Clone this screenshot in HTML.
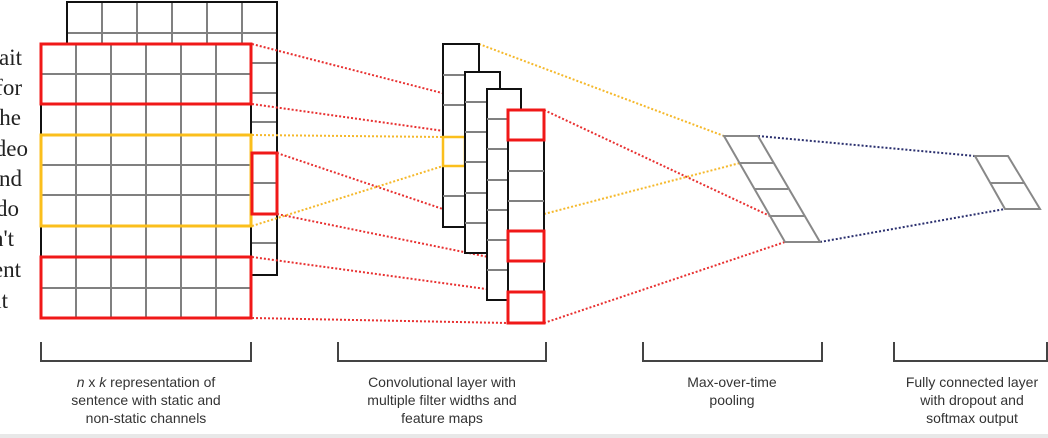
<!DOCTYPE html>
<html><head><meta charset="utf-8"><style>
html,body{margin:0;padding:0;background:#fff;width:1048px;height:438px;overflow:hidden}
</style></head><body>
<svg width="1048" height="438" viewBox="0 0 1048 438" xmlns="http://www.w3.org/2000/svg">
<rect x="0" y="434" width="1048" height="4" fill="#e8e8e8"/>
<!-- words -->
<g font-family="Liberation Serif, serif" font-size="23" fill="#222" text-anchor="end">
<text x="22" y="65">wait</text>
<text x="22" y="95">for</text>
<text x="21" y="125">the</text>
<text x="28" y="156">video</text>
<text x="22" y="186">and</text>
<text x="19" y="216">do</text>
<text x="14" y="246">n't</text>
<text x="21" y="277">rent</text>
<text x="8" y="308">it</text>
</g>
<!-- back matrix -->
<g stroke="#808080" stroke-width="2" fill="none">
<rect x="67" y="2" width="210" height="273" fill="#fff" stroke="#111"/>
<line x1="67" y1="33" x2="277" y2="33"/>
<line x1="102" y1="2" x2="102" y2="44"/><line x1="137" y1="2" x2="137" y2="44"/>
<line x1="172" y1="2" x2="172" y2="44"/><line x1="207" y1="2" x2="207" y2="44"/>
<line x1="242" y1="2" x2="242" y2="44"/>
<line x1="251" y1="63" x2="277" y2="63"/><line x1="251" y1="93" x2="277" y2="93"/>
<line x1="251" y1="122" x2="277" y2="122"/><line x1="251" y1="183" x2="277" y2="183"/>
<line x1="251" y1="243" x2="277" y2="243"/>
</g>
<rect x="67" y="2" width="210" height="273" fill="none" stroke="#111" stroke-width="2"/>
<!-- front matrix -->
<rect x="41" y="44" width="210" height="274" fill="#fff" stroke="#111" stroke-width="2"/>
<g stroke="#808080" stroke-width="2">
<line x1="76" y1="44" x2="76" y2="318"/><line x1="111" y1="44" x2="111" y2="318"/>
<line x1="146" y1="44" x2="146" y2="318"/><line x1="181" y1="44" x2="181" y2="318"/>
<line x1="216" y1="44" x2="216" y2="318"/>
<line x1="41" y1="74" x2="251" y2="74"/><line x1="41" y1="104" x2="251" y2="104"/>
<line x1="41" y1="135" x2="251" y2="135"/><line x1="41" y1="165" x2="251" y2="165"/>
<line x1="41" y1="195" x2="251" y2="195"/><line x1="41" y1="226" x2="251" y2="226"/>
<line x1="41" y1="257" x2="251" y2="257"/><line x1="41" y1="288" x2="251" y2="288"/>
</g>
<g fill="none" stroke-width="3">
<rect x="41" y="44" width="210" height="60" stroke="#f01818"/>
<rect x="41" y="135" width="210" height="91" stroke="#fbbf1c"/>
<rect x="41" y="257" width="210" height="61" stroke="#f01818"/>
<rect x="252" y="153" width="25" height="61" stroke="#f01818"/>
</g>
<!-- dotted connectors -->
<g fill="none" stroke-width="2" stroke-dasharray="2,2">
<g stroke="#e83030">
<line x1="252" y1="44" x2="508" y2="110"/>
<line x1="252" y1="104" x2="508" y2="140"/>
<line x1="277" y1="153" x2="508" y2="231"/>
<line x1="277" y1="214" x2="508" y2="261"/>
<line x1="252" y1="257" x2="508" y2="292"/>
<line x1="252" y1="318" x2="508" y2="323"/>
<line x1="544" y1="110" x2="770" y2="216"/>
<line x1="544" y1="323" x2="785" y2="242"/>
</g>
<g stroke="#f5b82a">
<line x1="252" y1="135" x2="443" y2="137"/>
<line x1="252" y1="226" x2="443" y2="166"/>
<line x1="479" y1="44" x2="724" y2="136"/>
<line x1="544" y1="214" x2="740" y2="163"/>
</g>
<g stroke="#2a2f6e">
<line x1="758" y1="136" x2="975" y2="156"/>
<line x1="820" y1="242" x2="1005" y2="209"/>
</g>
</g>
<!-- feature maps -->
<g stroke-width="2">
<rect x="443" y="44" width="36" height="183" fill="#fff" stroke="#111"/>
<g stroke="#808080"><line x1="443" y1="75" x2="479" y2="75"/><line x1="443" y1="105" x2="479" y2="105"/><line x1="443" y1="196" x2="479" y2="196"/></g>
<rect x="443" y="137" width="22" height="29" fill="none" stroke="#fbbf1c" stroke-width="2.5"/>
<rect x="465" y="72" width="35" height="181" fill="#fff" stroke="#111"/>
<g stroke="#808080"><line x1="465" y1="102" x2="500" y2="102"/><line x1="465" y1="132" x2="500" y2="132"/><line x1="465" y1="162" x2="500" y2="162"/><line x1="465" y1="193" x2="500" y2="193"/><line x1="465" y1="223" x2="500" y2="223"/></g>
<rect x="487" y="89" width="34" height="211" fill="#fff" stroke="#111"/>
<g stroke="#808080"><line x1="487" y1="119" x2="521" y2="119"/><line x1="487" y1="149" x2="521" y2="149"/><line x1="487" y1="180" x2="521" y2="180"/><line x1="487" y1="210" x2="521" y2="210"/><line x1="487" y1="240" x2="521" y2="240"/><line x1="487" y1="270" x2="521" y2="270"/></g>
<rect x="508" y="110" width="36" height="213" fill="#fff" stroke="#111"/>
<g stroke="#808080"><line x1="508" y1="171" x2="544" y2="171"/><line x1="508" y1="201" x2="544" y2="201"/></g>
<g fill="none" stroke="#f01818" stroke-width="3">
<rect x="508" y="110" width="36" height="30"/>
<rect x="508" y="231" width="36" height="30"/>
<rect x="508" y="292" width="36" height="31"/>
</g>
</g>
<!-- pooling -->
<g fill="none" stroke="#888" stroke-width="2">
<polygon points="724,136 758,136 820,242 785,242"/>
<line x1="740" y1="163" x2="773" y2="163"/>
<line x1="755" y1="189" x2="788" y2="189"/>
<line x1="770" y1="216" x2="804" y2="216"/>
<polygon points="975,156 1008,156 1040,209 1005,209"/>
<line x1="990" y1="183" x2="1024" y2="183"/>
</g>
<!-- brackets -->
<g fill="none" stroke="#444" stroke-width="2">
<polyline points="41,342 41,361 251,361 251,342"/>
<polyline points="338,342 338,361 546,361 546,342"/>
<polyline points="643,342 643,361 822,361 822,342"/>
<polyline points="894,342 894,361 1047,361 1047,342"/>
</g>
<g font-family="Liberation Sans, sans-serif" font-size="14" fill="#333" text-anchor="middle">
<text x="146" y="387"><tspan font-style="italic">n</tspan> x <tspan font-style="italic">k</tspan> representation of</text>
<text x="146" y="405">sentence with static and</text>
<text x="146" y="423">non-static channels</text>
<text x="442" y="387">Convolutional layer with</text>
<text x="442" y="405">multiple filter widths and</text>
<text x="442" y="423">feature maps</text>
<text x="732" y="387">Max-over-time</text>
<text x="732" y="405">pooling</text>
<text x="972" y="387">Fully connected layer</text>
<text x="972" y="405">with dropout and</text>
<text x="972" y="423">softmax output</text>
</g>
</svg>
</body></html>
